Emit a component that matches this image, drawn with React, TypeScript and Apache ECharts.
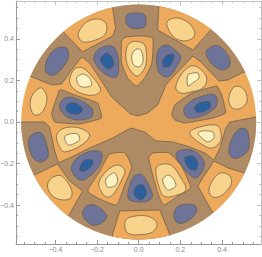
import React, { useEffect, useRef } from "react";
import * as echarts from "echarts";

type Pt = [number, number];

const DISK_RADIUS = 0.564;
const MAJOR_TICKS = [-0.4, -0.2, 0, 0.2, 0.4];
const MINOR_TICKS = [-0.55, -0.5, -0.45, -0.35, -0.3, -0.25, -0.15, -0.1, -0.05, 0.05, 0.1, 0.15, 0.25, 0.3, 0.35, 0.45, 0.5, 0.55];

// Brown level (cells have corners, extend beyond the disk and are clipped)
const brownTop: Pt[] = [[-0.524,0.221],[-0.418,0.178],[-0.37,0.183],[-0.322,0.25],[-0.274,0.313],[-0.236,0.284],[-0.188,0.212],[-0.13,0.12],[-0.077,0.072],[-0.038,0.038],[-0.005,0.029],[0.043,0.043],[0.091,0.082],[0.111,0.13],[0.13,0.178],[0.178,0.231],[0.26,0.317],[0.298,0.289],[0.385,0.197],[0.428,0.202],[0.505,0.24],[0.6,0.22],[0.6,0.4],[0.4,0.6],[0,0.68],[-0.4,0.6],[-0.62,0.3],[-0.6,0.25]];
const brownBottom: Pt[] = [[-0.62,0],[-0.563,0],[-0.452,0],[-0.428,-0.024],[-0.404,-0.135],[-0.385,-0.197],[-0.322,-0.168],[-0.236,-0.125],[-0.125,-0.077],[-0.038,-0.029],[0.029,-0.048],[0.082,-0.091],[0.164,-0.096],[0.245,-0.12],[0.317,-0.149],[0.361,-0.183],[0.39,-0.125],[0.418,-0.029],[0.438,0],[0.563,0.024],[0.62,0.02],[0.62,-0.3],[0.4,-0.6],[0,-0.68],[-0.4,-0.6],[-0.62,-0.3]];
const brownLeft: Pt[] = [[-0.38,0.154],[-0.418,0.043],[-0.404,0],[-0.284,-0.01],[-0.178,0.019],[-0.197,0.091],[-0.308,0.13],[-0.366,0.154]];
const brownRight: Pt[] = [[0.159,0.034],[0.173,0.082],[0.255,0.139],[0.375,0.173],[0.399,0.13],[0.418,0.043],[0.356,0.019],[0.221,-0.005],[0.173,0.01]];

// Orange cells on the brown level
const cellTopLeft: Pt[] = [[-0.361,0.433],[-0.269,0.337],[-0.226,0.361],[-0.125,0.414],[-0.111,0.452],[-0.125,0.548],[-0.13,0.62],[-0.3,0.62],[-0.42,0.5]];
const cellTopRight: Pt[] = [[0.096,0.548],[0.091,0.442],[0.168,0.399],[0.26,0.346],[0.341,0.438],[0.42,0.52],[0.25,0.62],[0.1,0.62]];
const cellCenterTop: Pt[] = [[-0.082,0.394],[-0.082,0.284],[-0.053,0.212],[-0.01,0.173],[0.029,0.212],[0.063,0.284],[0.067,0.404],[0.005,0.414],[-0.058,0.409]];
const cellLowRight: Pt[] = [[0.361,-0.188],[0.428,-0.221],[0.505,-0.245],[0.62,-0.29],[0.4,-0.5],[0.356,-0.438],[0.284,-0.308],[0.308,-0.269]];
const cellLowLeft: Pt[] = [[-0.5,-0.255],[-0.39,-0.202],[-0.332,-0.284],[-0.269,-0.332],[-0.337,-0.452],[-0.42,-0.52],[-0.62,-0.3]];
const cellBottom: Pt[] = [[-0.091,-0.428],[0.101,-0.423],[0.149,-0.543],[0.16,-0.62],[-0.14,-0.62],[-0.125,-0.539]];
const petalLeft: Pt[] = [[-0.245,-0.332],[-0.188,-0.24],[-0.139,-0.154],[-0.067,-0.149],[-0.034,-0.216],[-0.067,-0.303],[-0.106,-0.399],[-0.188,-0.37]];
const petalRight: Pt[] = [[0.048,-0.173],[0.067,-0.149],[0.144,-0.149],[0.202,-0.207],[0.25,-0.317],[0.188,-0.356],[0.12,-0.399],[0.091,-0.341]];

// Light orange level
const lightTopLeft: Pt[] = [[-0.288,0.433],[-0.25,0.481],[-0.188,0.495],[-0.154,0.467],[-0.164,0.418],[-0.221,0.39],[-0.269,0.385],[-0.288,0.409]];
const lightTopRight: Pt[] = [[0.135,0.467],[0.144,0.49],[0.188,0.5],[0.24,0.476],[0.269,0.433],[0.26,0.404],[0.216,0.39],[0.168,0.409]];
const lightCenterTop: Pt[] = [[-0.058,0.356],[-0.034,0.385],[0.005,0.385],[0.029,0.37],[0.038,0.313],[0.029,0.26],[-0.005,0.221],[-0.034,0.24],[-0.058,0.289]];
const lightUpperLeft: Pt[] = [[-0.332,0.202],[-0.308,0.255],[-0.269,0.26],[-0.221,0.216],[-0.183,0.154],[-0.212,0.13],[-0.269,0.135],[-0.317,0.164]];
const lightUpperRight: Pt[] = [[0.178,0.164],[0.202,0.226],[0.25,0.269],[0.289,0.26],[0.327,0.212],[0.308,0.164],[0.25,0.144],[0.202,0.139]];
const lightFarLeft: Pt[] = [[-0.519,0.106],[-0.5,0.144],[-0.467,0.164],[-0.443,0.13],[-0.443,0.091],[-0.467,0.043],[-0.5,0.034],[-0.519,0.067]];
const lightFarRight: Pt[] = [[0.433,0.12],[0.457,0.168],[0.491,0.168],[0.515,0.139],[0.519,0.096],[0.491,0.067],[0.457,0.063],[0.438,0.082]];
const lightLowRight: Pt[] = [[0.337,-0.332],[0.356,-0.279],[0.394,-0.245],[0.438,-0.26],[0.443,-0.303],[0.394,-0.356],[0.356,-0.361]];
const lightLowLeft: Pt[] = [[-0.438,-0.308],[-0.418,-0.269],[-0.37,-0.26],[-0.322,-0.327],[-0.327,-0.366],[-0.366,-0.375],[-0.414,-0.356]];
const lightBottom: Pt[] = [[-0.067,-0.495],[-0.053,-0.462],[0.038,-0.452],[0.087,-0.486],[0.067,-0.529],[-0.01,-0.543],[-0.053,-0.534]];
const lightPetalLeft: Pt[] = [[-0.192,-0.293],[-0.149,-0.231],[-0.101,-0.207],[-0.067,-0.231],[-0.077,-0.269],[-0.125,-0.351],[-0.154,-0.361],[-0.178,-0.337]];
const lightPetalRight: Pt[] = [[0.082,-0.231],[0.096,-0.207],[0.154,-0.207],[0.202,-0.269],[0.226,-0.327],[0.168,-0.356],[0.12,-0.356],[0.096,-0.308]];
const lightBandLeft: Pt[] = [[-0.394,-0.063],[-0.356,-0.029],[-0.284,-0.029],[-0.236,-0.063],[-0.274,-0.111],[-0.356,-0.144],[-0.38,-0.12]];
const lightBandRight: Pt[] = [[0.245,-0.053],[0.293,-0.024],[0.38,-0.019],[0.394,-0.087],[0.356,-0.125],[0.308,-0.111]];

// Palest level
const paleCenterTop: Pt[] = [[-0.034,0.313],[-0.019,0.346],[0.005,0.351],[0.019,0.322],[0.019,0.284],[0,0.265],[-0.024,0.274]];
const paleUpperLeft: Pt[] = [[-0.298,0.212],[-0.269,0.231],[-0.236,0.212],[-0.226,0.178],[-0.25,0.168],[-0.284,0.173]];
const paleUpperRight: Pt[] = [[0.236,0.226],[0.265,0.236],[0.284,0.236],[0.289,0.212],[0.26,0.188],[0.236,0.173]];
const palePetalLeft: Pt[] = [[-0.159,-0.279],[-0.139,-0.255],[-0.115,-0.245],[-0.101,-0.279],[-0.115,-0.308],[-0.149,-0.313]];
const palePetalRight: Pt[] = [[0.115,-0.279],[0.139,-0.255],[0.164,-0.269],[0.178,-0.308],[0.139,-0.327]];
const paleBandLeft: Pt[] = [[-0.356,-0.072],[-0.332,-0.058],[-0.293,-0.058],[-0.284,-0.087],[-0.337,-0.111]];
const paleBandRight: Pt[] = [[0.284,-0.053],[0.308,-0.043],[0.356,-0.048],[0.361,-0.077],[0.332,-0.096],[0.303,-0.077]];

// Slate level
const slateTop: Pt[] = [[-0.063,0.495],[-0.053,0.519],[0.005,0.524],[0.029,0.515],[0.034,0.467],[0.019,0.452],[-0.034,0.452],[-0.058,0.471]];
const slateUpperFarLeft: Pt[] = [[-0.447,0.274],[-0.428,0.322],[-0.39,0.356],[-0.346,0.356],[-0.337,0.313],[-0.356,0.274],[-0.404,0.226],[-0.443,0.236]];
const slateUpperFarRight: Pt[] = [[0.322,0.332],[0.346,0.361],[0.385,0.366],[0.428,0.322],[0.438,0.274],[0.404,0.25],[0.356,0.274]];
const slateUpperLeft: Pt[] = [[-0.216,0.308],[-0.197,0.346],[-0.154,0.366],[-0.115,0.356],[-0.096,0.284],[-0.106,0.216],[-0.154,0.226],[-0.197,0.265]];
const slateUpperRight: Pt[] = [[0.087,0.322],[0.106,0.361],[0.139,0.37],[0.168,0.351],[0.202,0.313],[0.178,0.26],[0.139,0.216],[0.096,0.24]];
const slateIslandLeft: Pt[] = [[-0.38,0.077],[-0.356,0.115],[-0.308,0.115],[-0.226,0.067],[-0.226,0.024],[-0.298,0.01],[-0.356,0.034]];
const slateIslandRight: Pt[] = [[0.216,0.058],[0.245,0.096],[0.308,0.125],[0.366,0.13],[0.375,0.082],[0.332,0.043],[0.269,0.019],[0.231,0.024]];
const slateSideRight: Pt[] = [[0.433,-0.149],[0.443,-0.091],[0.476,-0.038],[0.515,-0.034],[0.529,-0.077],[0.524,-0.139],[0.476,-0.173],[0.452,-0.173]];
const slateSideLeft: Pt[] = [[-0.529,-0.101],[-0.515,-0.063],[-0.467,-0.053],[-0.438,-0.125],[-0.438,-0.173],[-0.476,-0.192],[-0.51,-0.168]];
const slateLowRight: Pt[] = [[0.178,-0.159],[0.202,-0.135],[0.265,-0.139],[0.313,-0.188],[0.308,-0.231],[0.274,-0.269],[0.226,-0.236]];
const slateLowLeft: Pt[] = [[-0.322,-0.212],[-0.284,-0.164],[-0.221,-0.139],[-0.178,-0.149],[-0.188,-0.207],[-0.245,-0.269],[-0.284,-0.279],[-0.317,-0.245]];
const slateCenterBottom: Pt[] = [[-0.053,-0.351],[-0.029,-0.269],[0.005,-0.25],[0.029,-0.269],[0.067,-0.351],[0.053,-0.375],[0.005,-0.385],[-0.043,-0.375]];
const slateSmallLeft: Pt[] = [[-0.269,-0.447],[-0.25,-0.404],[-0.202,-0.404],[-0.154,-0.452],[-0.178,-0.486],[-0.226,-0.495]];
const slateSmallRight: Pt[] = [[0.168,-0.447],[0.192,-0.404],[0.265,-0.399],[0.279,-0.428],[0.236,-0.476],[0.188,-0.486]];

// Dark blue level
const blueUpperLeft: Pt[] = [[-0.183,0.308],[-0.154,0.332],[-0.13,0.313],[-0.12,0.274],[-0.149,0.255],[-0.178,0.284]];
const blueUpperRight: Pt[] = [[0.115,0.289],[0.13,0.317],[0.164,0.327],[0.168,0.308],[0.149,0.269],[0.12,0.265]];
const blueIslandLeft: Pt[] = [[-0.351,0.067],[-0.332,0.091],[-0.293,0.087],[-0.269,0.058],[-0.293,0.038],[-0.332,0.043]];
const blueIslandRight: Pt[] = [[0.269,0.072],[0.303,0.096],[0.341,0.096],[0.341,0.067],[0.308,0.048],[0.279,0.048]];
const blueLowRight: Pt[] = [[0.221,-0.173],[0.26,-0.164],[0.284,-0.197],[0.274,-0.231],[0.24,-0.221]];
const blueLowLeft: Pt[] = [[-0.284,-0.231],[-0.26,-0.183],[-0.221,-0.183],[-0.226,-0.212],[-0.26,-0.236]];
const blueCenterBottom: Pt[] = [[-0.024,-0.341],[-0.01,-0.308],[0.019,-0.303],[0.038,-0.341],[0.014,-0.375],[-0.01,-0.366]];

const ORANGE = "#edaa5c";
const BROWN = "#ae8b65";
const LIGHT = "#f8d38c";
const PALE = "#fcf2c0";
const SLATE = "#6e7399";
const BLUE = "#2b5f9d";
const LINE = "#645a49";

const layers: { fill: string; smooth: number; polys: Pt[][] }[] = [
  { fill: BROWN, smooth: 0, polys: [brownTop, brownBottom] },
  { fill: BROWN, smooth: 0.1, polys: [brownLeft, brownRight] },
  { fill: ORANGE, smooth: 0, polys: [cellTopLeft, cellTopRight, cellLowRight, cellLowLeft, cellBottom] },
  { fill: ORANGE, smooth: 0.15, polys: [cellCenterTop, petalLeft, petalRight] },
  { fill: LIGHT, smooth: 0.35, polys: [lightTopLeft, lightTopRight, lightCenterTop, lightUpperLeft, lightUpperRight, lightFarLeft, lightFarRight, lightLowRight, lightLowLeft, lightBottom, lightPetalLeft, lightPetalRight, lightBandLeft, lightBandRight] },
  { fill: PALE, smooth: 0.3, polys: [paleCenterTop, paleUpperLeft, paleUpperRight, palePetalLeft, palePetalRight, paleBandLeft, paleBandRight] },
  { fill: SLATE, smooth: 0.35, polys: [slateTop, slateUpperFarLeft, slateUpperFarRight, slateUpperLeft, slateUpperRight, slateIslandLeft, slateIslandRight, slateSideRight, slateSideLeft, slateLowRight, slateLowLeft, slateCenterBottom, slateSmallLeft, slateSmallRight] },
  { fill: BLUE, smooth: 0.3, polys: [blueUpperLeft, blueUpperRight, blueIslandLeft, blueIslandRight, blueLowRight, blueLowLeft, blueCenterBottom] },
];

const regions = layers.flatMap((l) => l.polys.map((points) => ({ points, fill: l.fill, smooth: l.smooth })));

const fmt = (v: number) => (v < 0 ? "\u2212" : "") + Math.abs(v).toFixed(1);

const RANGE_X = { min: -0.589, max: 0.587 };
const RANGE_Y = { min: -0.587, max: 0.582 };
const FRAME = "#9a9a9a";
const FRAME_LIGHT = "#c4c4c4";

function axis(range: { min: number; max: number }, position: string, values: number[], len: number, opts: { label?: boolean; line?: string } = {}) {
  return {
    type: "value",
    position,
    ...range,
    splitLine: { show: false },
    axisLine: { show: !!opts.line, onZero: false, lineStyle: { color: opts.line, width: 1 } },
    axisTick: { show: true, inside: true, length: len, customValues: values, lineStyle: { color: position === "top" || position === "right" ? FRAME_LIGHT : FRAME, width: 1 } },
    axisLabel: opts.label
      ? { show: true, customValues: values, formatter: fmt, color: "#8a8a8a", fontSize: 7, margin: 2, fontFamily: "Liberation Sans", showMinLabel: true, showMaxLabel: true }
      : { show: false },
  };
}

export default function App() {
  const ref = useRef<HTMLDivElement>(null);
  useEffect(() => {
    const chart = echarts.init(ref.current!, undefined, { renderer: "svg" });
    const clip = (api: any) => {
      const c = api.coord([0, 0]);
      return { type: "circle", shape: { cx: c[0], cy: c[1], r: api.size([DISK_RADIUS, 0])[0] } };
    };
    chart.setOption({
      animation: false,
      grid: { left: 16, right: 1, top: 1, bottom: 13, containLabel: false, outerBoundsMode: "none" },
      xAxis: [
        axis(RANGE_X, "bottom", MAJOR_TICKS, 4, { label: true, line: FRAME }),
        axis(RANGE_X, "bottom", MINOR_TICKS, 2),
        axis(RANGE_X, "top", MAJOR_TICKS, 4, { line: FRAME_LIGHT }),
        axis(RANGE_X, "top", MINOR_TICKS, 2),
      ],
      yAxis: [
        axis(RANGE_Y, "left", MAJOR_TICKS, 4, { label: true, line: FRAME }),
        axis(RANGE_Y, "left", MINOR_TICKS, 2),
        axis(RANGE_Y, "right", MAJOR_TICKS, 4, { line: FRAME_LIGHT }),
        axis(RANGE_Y, "right", MINOR_TICKS, 2),
      ],
      series: [
        {
          type: "custom",
          coordinateSystem: "cartesian2d",
          silent: true,
          clip: false,
          data: [[0, 0]],
          renderItem: (_p: any, api: any) => {
            const c = api.coord([0, 0]);
            return { type: "circle", shape: { cx: c[0], cy: c[1], r: api.size([DISK_RADIUS, 0])[0] }, style: { fill: ORANGE } };
          },
        },
        {
          type: "custom",
          coordinateSystem: "cartesian2d",
          silent: true,
          clip: false,
          data: regions.map((r) => r.points[0]),
          renderItem: (p: any, api: any) => {
            const r = regions[p.dataIndex];
            return {
              type: "polygon",
              shape: { points: r.points.map((q) => api.coord(q)), smooth: r.smooth || undefined },
              style: { fill: r.fill, stroke: LINE, lineWidth: 0.7 },
              clipPath: clip(api),
            };
          },
        },
      ],
    });
    return () => chart.dispose();
  }, []);
  return <div ref={ref} style={{ position: "fixed", left: 0, top: 0, width: 262, height: 257, background: "#fff" }} />;
}
